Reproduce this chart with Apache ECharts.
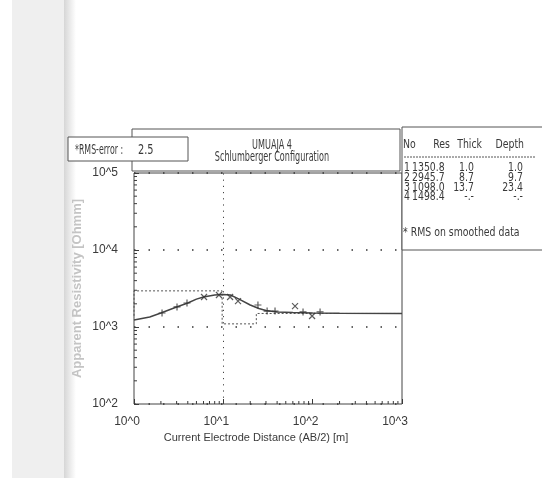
<!DOCTYPE html>
<html><head><meta charset="utf-8">
<script src="https://cdn.jsdelivr.net/npm/echarts@6/dist/echarts.min.js"></script>
<style>html,body{margin:0;padding:0;background:#fff}#c{width:542px;height:478px}</style>
</head><body><div id="c"></div>
<script>
const FONT = '"Liberation Sans","DejaVu Sans",sans-serif';
const GFONT = '"DejaVu Sans",sans-serif';
const INK = '#3a3a3a';
const xTickLabels = ['10^0','10^1','10^2','10^3'];
const yTickLabels = ['10^2','10^3','10^4','10^5'];
const curveX = [1,1.5,2,3,4,5,6,8,10,12,15,20,25,30,40,60,100,200,1000];
const curveY = [1230,1350,1520,1820,2050,2300,2450,2600,2650,2600,2300,1930,1740,1640,1570,1540,1520,1510,1500];
const obsPlusX = [2.06,3.03,3.92,24.4,30.9,37.9,78,121];
const obsPlusY = [1520,1820,2050,1930,1610,1610,1570,1570];
const obsCrossX = [6.08,8.93,11.9,14.6,63.5,98.5];
const obsCrossY = [2450,2600,2450,2170,1870,1390];
const layerNo = ['1','2','3','4'];
const layerRes = [1350.8,2945.7,1098.0,1498.4];
const layerThick = [1.0,8.7,13.7,null];
const layerDepth = [1.0,9.7,23.4,null];
const rmsError = 2.5;
const titleLines = ['UMUAJA 4','Schlumberger Configuration'];
const tableHeader = ['No','Res','Thick','Depth'];
const footnote = '* RMS on smoothed data';
const xName = 'Current Electrode Distance (AB/2) [m]';
const yName = 'Apparent Resistivity [Ohmm]';

const X0 = 134, Y0 = 173, W = 268, H = 231;
const chart = echarts.init(document.getElementById('c'), null, {renderer:'canvas'});

const pairs = (xs, ys) => xs.map((x,i)=>[x, ys[i]]);
const model = [];
for (let i = 0; i < layerRes.length; i++) {
  const x0 = i === 0 ? 0.5 : layerDepth[i-1];
  const x1 = layerDepth[i] == null ? 1000 : layerDepth[i];
  model.push([x0, layerRes[i]], [x1, layerRes[i]]);
}
const minorX = [], minorY = [];
for (let k = 0; k < 3; k++) for (let m = 2; m <= 9; m++) minorX.push([m*Math.pow(10,k), 100]);
for (let k = 2; k < 5; k++) for (let m = 2; m <= 9; m++) minorY.push([1, m*Math.pow(10,k)]);

const fmt = v => v == null ? '-.-' : v.toFixed(1);
const txt = (x, y, text, align, size, sx, z) => ({
  type:'text', x, y, z: z||20, scaleX: sx, scaleY: 1,
  style:{text, fill: INK, font: size+'px '+GFONT, align: align||'left', verticalAlign:'middle'}
});
const TS = 0.72, TTL = 0.6, RS = 0.56;

const graphics = [
  {type:'rect', shape:{x:12,y:0,width:54,height:478}, style:{fill:'#efefef'}, z:-10, silent:true},
  {type:'rect', shape:{x:64,y:0,width:12,height:478}, z:-10, silent:true,
   style:{fill:new echarts.graphic.LinearGradient(0,0,1,0,[{offset:0,color:'#d6d6d6'},{offset:1,color:'#ffffff'}])}},
  {type:'rect', shape:{x:132,y:129,width:268,height:42}, style:{fill:'#fff', stroke:'#555', lineWidth:1}, z:5},
  txt(272,145.5,titleLines[0],'center',13.5,TTL),
  txt(272,157,titleLines[1],'center',13.5,TTL),
  {type:'rect', shape:{x:68,y:137,width:120,height:24}, style:{fill:'#fff', stroke:'#555', lineWidth:1}, z:6},
  txt(75,150,'*RMS-error :','left',14,RS,21),
  txt(138,150,rmsError.toFixed(1),'left',14,0.7,21),
  {type:'rect', shape:{x:402,y:127,width:150,height:123}, style:{fill:'#fff', stroke:'#555', lineWidth:1}, z:5},
  txt(403,145,tableHeader[0],'left',13,TS),
  txt(450,145,tableHeader[1],'right',13,TS),
  txt(482,145,tableHeader[2],'right',13,TS),
  txt(524,145,tableHeader[3],'right',13,TS),
  {type:'line', shape:{x1:404,y1:157,x2:536,y2:157}, style:{stroke:'#555', lineWidth:1, lineDash:[2,1]}, z:20},
  txt(403,233,footnote,'left',13,TS)
];
const rowY = [168,178,187.5,197];
layerNo.forEach((n,i)=>{
  graphics.push(txt(404,rowY[i],n,'left',13,TS));
  graphics.push(txt(412,rowY[i],fmt(layerRes[i]),'left',13,TS));
  graphics.push(txt(474,rowY[i],fmt(layerThick[i]),'right',13,TS));
  graphics.push(txt(523,rowY[i],fmt(layerDepth[i]),'right',13,TS));
});

const tickSeries = (data, horiz) => ({
  type:'custom', data, silent:true, z:4, clip:false,
  renderItem:(params, api)=>{
    const p = api.coord([api.value(0), api.value(1)]);
    return {type:'line', shape: horiz ? {x1:p[0],y1:p[1],x2:p[0]+3,y2:p[1]} : {x1:p[0],y1:p[1],x2:p[0],y2:p[1]-3},
      style:{stroke:INK, lineWidth:1}};
  }
});

chart.setOption({
  animation:false,
  backgroundColor:'#fff',
  textStyle:{fontFamily:FONT},
  grid:{left:X0, top:Y0, width:W, height:H, show:true, borderColor:'#444', borderWidth:1, backgroundColor:'transparent'},
  xAxis:{type:'log', logBase:10, min:1, max:1000,
    name:xName, nameLocation:'middle', nameGap:28,
    nameTextStyle:{color:INK, fontSize:11, fontFamily:FONT, padding:[0,24,0,0]},
    axisLine:{show:false},
    axisTick:{show:true, inside:true, length:5, lineStyle:{color:INK}},
    axisLabel:{color:INK, fontSize:12, fontFamily:FONT, margin:12, padding:[0,14,0,0],
      formatter:(v)=>xTickLabels[Math.round(Math.log10(v))]},
    splitLine:{show:false}},
  yAxis:{type:'log', logBase:10, min:100, max:100000,
    name:yName, nameLocation:'middle', nameGap:50, nameRotate:90,
    nameTextStyle:{color:'#c4c4c4', fontSize:13, fontFamily:FONT, fontWeight:'bold'},
    axisLine:{show:false},
    axisTick:{show:true, inside:true, length:5, lineStyle:{color:INK}},
    axisLabel:{color:INK, fontSize:12, fontFamily:FONT, margin:16, padding:[6,0,0,0],
      formatter:(v)=>yTickLabels[Math.round(Math.log10(v))-2]},
    splitLine:{show:true, lineStyle:{color:'#333', width:1.5, type:[1.5,13]}}},
  graphic: graphics,
  series:[
    {type:'line', data:model, symbol:'none', z:3,
     lineStyle:{color:'#555', width:1, type:[2,2]},
     markLine:{silent:true, symbol:'none', label:{show:false},
       lineStyle:{color:'#444', width:1, type:[1.2,5]}, data:[{xAxis:10}]}},
    {type:'line', data:pairs(curveX,curveY), symbol:'none', z:4,
     lineStyle:{color:'#444', width:1.5}},
    {type:'scatter', data:pairs(obsPlusX,obsPlusY), z:5,
     symbol:'path://M5,0L5,10M0,5L10,5', symbolSize:7,
     itemStyle:{color:'rgba(0,0,0,0)', borderColor:'#333', borderWidth:1.2}},
    {type:'scatter', data:pairs(obsCrossX,obsCrossY), z:5,
     symbol:'path://M0,0L10,10M10,0L0,10', symbolSize:6,
     itemStyle:{color:'rgba(0,0,0,0)', borderColor:'#333', borderWidth:1.2}},
    tickSeries(minorX,false),
    tickSeries(minorY,true)
  ]
});
</script></body></html>
